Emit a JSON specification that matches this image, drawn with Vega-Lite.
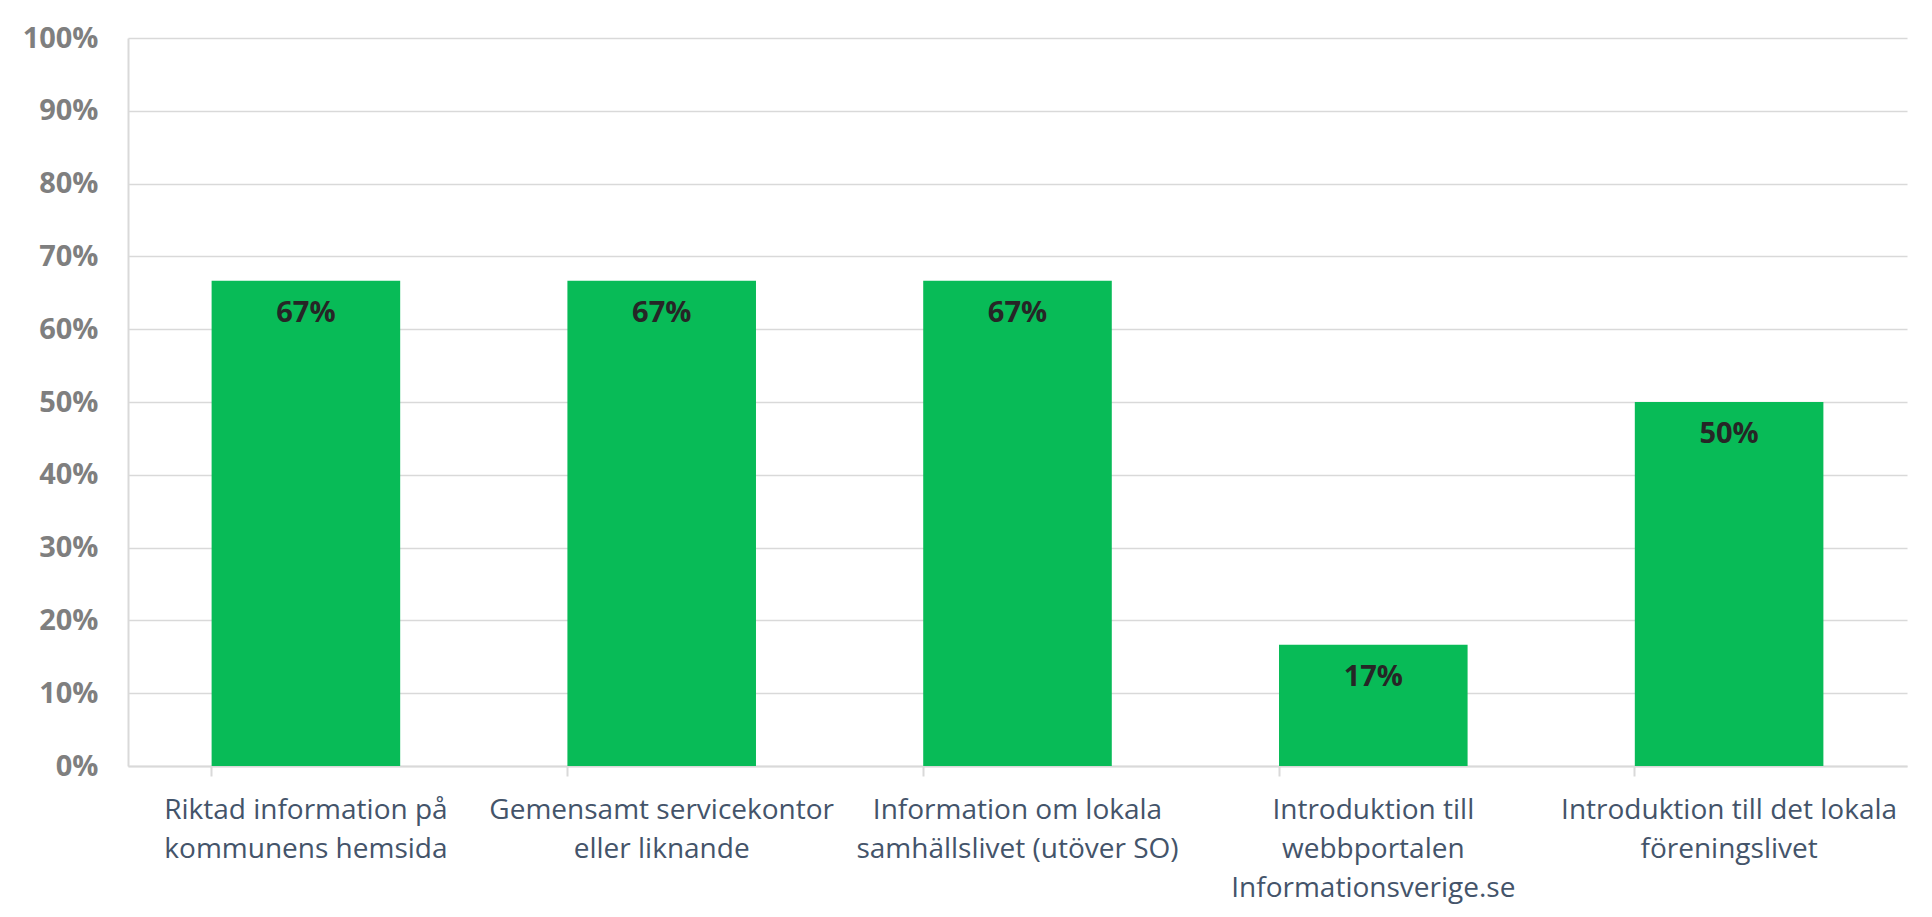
{
  "$schema": "https://vega.github.io/schema/vega-lite/v6.json",
  "autosize": {"type": "none"},
  "padding": {"left": 128, "top": 38, "right": 25, "bottom": 151},
  "width": 1779,
  "height": 728,
  "background": "#ffffff",
  "config": {
    "font": "Open Sans",
    "view": {"stroke": null}
  },
  "data": {
    "values": [
      {"category": "Riktad information på|kommunens hemsida", "value": 0.6667},
      {"category": "Gemensamt servicekontor|eller liknande", "value": 0.6667},
      {"category": "Information om lokala|samhällslivet (utöver SO)", "value": 0.6667},
      {"category": "Introduktion till|webbportalen|Informationsverige.se", "value": 0.1667},
      {"category": "Introduktion till det lokala|föreningslivet", "value": 0.5}
    ]
  },
  "encoding": {
    "x": {
      "field": "category",
      "type": "nominal",
      "sort": null,
      "scale": {"paddingInner": 0.47, "paddingOuter": 0.235},
      "axis": {
        "title": null,
        "labelAngle": 0,
        "labelExpr": "split(datum.value, '|')",
        "labelFontSize": 28,
        "labelColor": "#44546A",
        "labelLineHeight": 39,
        "labelPadding": 20,
        "labelBaseline": "top",
        "labelLimit": 0,
        "bandPosition": 0,
        "ticks": true,
        "tickSize": 10,
        "tickColor": "#D9D9D9",
        "tickWidth": 2,
        "domainColor": "#D9D9D9",
        "domainWidth": 2,
        "grid": false
      }
    },
    "y": {
      "field": "value",
      "type": "quantitative",
      "scale": {"domain": [0, 1]},
      "axis": {
        "title": null,
        "values": [0, 0.1, 0.2, 0.3, 0.4, 0.5, 0.6, 0.7, 0.8, 0.9, 1],
        "format": ".0%",
        "labelFontSize": 29,
        "labelFontWeight": "bold",
        "labelColor": "#7F7F7F",
        "labelPadding": 30,
        "ticks": false,
        "domainColor": "#D9D9D9",
        "domainWidth": 2,
        "gridColor": "#D9D9D9",
        "gridWidth": 1.5
      }
    }
  },
  "layer": [
    {"mark": {"type": "bar", "color": "#08BB57"}},
    {
      "mark": {"type": "text", "baseline": "top", "dy": 18, "fontSize": 29, "fontWeight": "bold", "color": "#262626"},
      "encoding": {"text": {"field": "value", "type": "quantitative", "format": ".0%"}}
    }
  ]
}
